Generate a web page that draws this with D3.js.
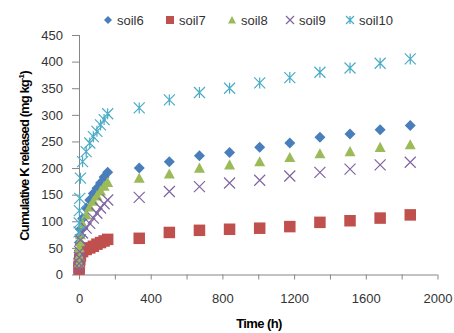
<!DOCTYPE html>
<html>
<head>
<meta charset="utf-8">
<script src="https://cdn.jsdelivr.net/npm/d3@7"></script>
<style>
  body { margin: 0; background: #fff; }
  svg { font-family: "Liberation Sans", Arial, sans-serif; }
  .axis path, .axis line { stroke: #868686; }
  .axis text { fill: #333; font-size: 13px; }
</style>
</head>
<body>
<div id="chart"></div>
<script>
// Sampling times (h)
var times = [0.5, 1, 2, 4, 8, 20, 40, 60, 80, 100, 120, 140, 160,
             336, 504, 672, 840, 1008, 1176, 1344, 1512, 1680, 1848]

// Cumulative K released (mg kg-1) for each soil
var soil6  = [30, 45, 60, 72, 85, 105, 125, 140, 152, 162, 172, 183, 192,
              200, 212, 223, 229, 239, 247, 258, 264, 272, 280]
var soil7  = [10, 14, 21, 28, 35, 43, 47, 50, 53, 57, 60, 63, 66,
              68, 79, 83, 85, 87, 90, 98, 101, 106, 112]
var soil8  = [22, 35, 50, 62, 75, 95, 112, 127, 138, 148, 157, 166, 173,
              181, 189, 200, 206, 212, 220, 227, 231, 239, 244]
var soil9  = [12, 21, 32, 43, 65, 78, 87, 96, 106, 115, 125, 133, 140,
              145, 156, 165, 172, 177, 185, 192, 198, 206, 211]
var soil10 = [80, 97, 120, 143, 181, 212, 231, 247, 259, 269, 281, 291, 302,
              313, 328, 342, 350, 360, 370, 380, 388, 397, 405]

var seriesNames = ["soil6", "soil7", "soil8", "soil9", "soil10"]
var seriesValues = [soil6, soil7, soil8, soil9, soil10]
var seriesColors = ["#4A7EBB", "#C0504D", "#9BBB59", "#8064A2", "#4BACC6"]
var seriesShapes = ["diamond", "square", "triangle", "cross", "star"]

var xTicks = [0, 200, 400, 600, 800, 1000, 1200, 1400, 1600, 1800, 2000]
var yTicks = [0, 50, 100, 150, 200, 250, 300, 350, 400, 450]

var width = 454
var height = 333

var svg = d3.select("#chart")
            .append("svg")
            .attr("width", width)
            .attr("height", height)

var xscale = d3.scaleLinear().domain([0, 2000]).range([79, 437.5])
var yscale = d3.scaleLinear().domain([0, 450]).range([274.5, 35])

// Axes
var xaxis = d3.axisBottom(xscale)
              .tickValues(xTicks)
              .tickSize(5)
              .tickPadding(14)
              .tickFormat(function(d){ return d % 400 == 0 ? d : "" })

var yaxis = d3.axisLeft(yscale)
              .tickValues(yTicks)
              .tickSize(7)
              .tickPadding(9)

svg.append("g")
  .attr("class", "x axis")
  .attr("transform", "translate(0," + yscale(0) + ")")
  .call(xaxis)
  .call(function(g){ g.select(".domain").attr("d", "M" + xscale(0) + ",0.5H" + xscale(2000)) })

svg.append("g")
  .attr("class", "y axis")
  .attr("transform", "translate(" + xscale(0) + ",0)")
  .call(yaxis)
  .call(function(g){ g.select(".domain").attr("d", "M0.5," + yscale(0) + "V" + yscale(450)) })

// Axis titles
svg.append("text")
  .attr("x", 259)
  .attr("y", 328)
  .attr("text-anchor", "middle")
  .style("font-size", "13px")
  .style("font-weight", "bold")
  .style("letter-spacing", "-0.6px")
  .style("fill", "#000")
  .text("Time (h)")

var ytitle = svg.append("text")
  .attr("transform", "translate(29,156) rotate(-90)")
  .attr("text-anchor", "middle")
  .style("font-size", "13px")
  .style("font-weight", "bold")
  .style("letter-spacing", "-0.9px")
  .style("fill", "#000")
ytitle.append("tspan").text("Cumulative K released (mg kg")
ytitle.append("tspan").attr("dy", -5).style("font-size", "8px").text("-1")
ytitle.append("tspan").attr("dy", 5).text(")")

// Marker drawing
function drawMarker(g, shape, color, s){
  var h = s / 2
  if(shape == "diamond"){
    g.append("path").attr("d", "M0," + (-h) + "L" + h + ",0L0," + h + "L" + (-h) + ",0Z")
      .attr("fill", color)
  }else if(shape == "square"){
    g.append("rect").attr("x", -h).attr("y", -h).attr("width", s).attr("height", s)
      .attr("fill", color)
  }else if(shape == "triangle"){
    g.append("path").attr("d", "M0," + (-h) + "L" + h + "," + (h * 0.85) + "L" + (-h) + "," + (h * 0.85) + "Z")
      .attr("fill", color)
  }else if(shape == "cross"){
    g.append("path").attr("d", "M" + (-h) + "," + (-h) + "L" + h + "," + h + "M" + (-h) + "," + h + "L" + h + "," + (-h))
      .attr("stroke", color).attr("stroke-width", 1.2).attr("fill", "none")
  }else{
    g.append("path").attr("d", "M" + (-h) + "," + (-h) + "L" + h + "," + h + "M" + (-h) + "," + h + "L" + h + "," + (-h) + "M0," + (-h) + "L0," + h)
      .attr("stroke", color).attr("stroke-width", 1.2).attr("fill", "none")
  }
}

var markerSizes = [11, 11.5, 11, 11, 11]

// Points for each soil
seriesValues.forEach(function(vals, si){
  var pts = svg.append("g").attr("class", "series " + seriesNames[si])
    .selectAll("g")
    .data(vals.map(function(v, i){ return {t: times[i], v: v} }))
    .enter()
    .append("g")
    .attr("transform", function(d){ return "translate(" + xscale(d.t) + "," + yscale(d.v) + ")" })
  pts.each(function(){ drawMarker(d3.select(this), seriesShapes[si], seriesColors[si], markerSizes[si]) })
})

// Legend
var legendX = [108, 170, 232, 290, 350]
var legend = svg.append("g").attr("class", "legend")
seriesNames.forEach(function(name, si){
  var lg = legend.append("g").attr("transform", "translate(" + legendX[si] + ",20)")
  drawMarker(lg, seriesShapes[si], seriesColors[si], 8)
  lg.append("text")
    .attr("x", 9)
    .attr("y", 4.5)
    .style("font-size", "13px")
    .style("fill", "#333")
    .text(name)
})
</script>
</body>
</html>
